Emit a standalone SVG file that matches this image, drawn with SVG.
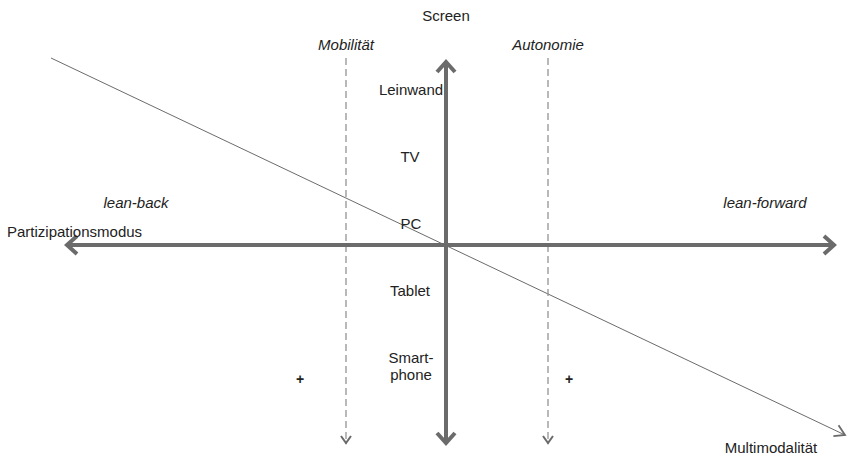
<svg xmlns="http://www.w3.org/2000/svg" width="849" height="457" viewBox="0 0 849 457">
<style>
text{font-family:"Liberation Sans",Arial,sans-serif;font-size:15px;fill:#222}
.it{font-style:italic}
.c{text-anchor:middle}
.axis{stroke:#6b6b6b;stroke-width:4;fill:none}
.dash{stroke:#8a8a8a;stroke-width:1.2;stroke-dasharray:7,4;fill:none}
.diag{stroke:#6b6b6b;stroke-width:1;fill:none}
.plus{font-weight:bold;font-size:14px}
</style>
<defs>
<marker id="big" markerUnits="userSpaceOnUse" viewBox="-14 -12 16 24" refX="0" refY="0" markerWidth="16" markerHeight="24" orient="auto" overflow="visible">
<polyline points="-11,-9 -1,0 -11,9" fill="none" stroke="#6b6b6b" stroke-width="4"/>
</marker>
<marker id="small" markerUnits="userSpaceOnUse" viewBox="-10 -8 12 16" refX="0" refY="0" markerWidth="12" markerHeight="16" orient="auto" overflow="visible">
<polyline points="-8,-5 -1,0 -8,5" fill="none" stroke="#6b6b6b" stroke-width="2"/>
</marker>
<marker id="thin" markerUnits="userSpaceOnUse" viewBox="-12 -8 14 16" refX="0" refY="0" markerWidth="14" markerHeight="16" orient="auto" overflow="visible">
<polyline points="-10,-6 0,0 -10,6" fill="none" stroke="#6b6b6b" stroke-width="1.8"/>
</marker>
</defs>
<g id="connectors">
<line class="diag" x1="51" y1="58" x2="845" y2="435" marker-end="url(#thin)"/>
<line class="dash" x1="346" y1="58" x2="346" y2="444" marker-end="url(#small)"/>
<line class="dash" x1="548" y1="58" x2="548" y2="444" marker-end="url(#small)"/>
<line class="axis" x1="446" y1="245" x2="446" y2="61" marker-end="url(#big)"/>
<line class="axis" x1="446" y1="245" x2="446" y2="444" marker-end="url(#big)"/>
<line class="axis" x1="446" y1="245" x2="66" y2="245" marker-end="url(#big)"/>
<line class="axis" x1="446" y1="245" x2="835" y2="245" marker-end="url(#big)"/>
</g>
<g id="screen"><text class="c" x="446" y="21">Screen</text></g>
<g id="mobilitaet"><text class="c it" x="346" y="50">Mobilität</text></g>
<g id="autonomie"><text class="c it" x="548" y="50">Autonomie</text></g>
<g id="leinwand"><text class="c" x="411" y="95">Leinwand</text></g>
<g id="tv"><text class="c" x="410" y="162">TV</text></g>
<g id="pc"><text class="c" x="411" y="229">PC</text></g>
<g id="tablet"><text class="c" x="410" y="296">Tablet</text></g>
<g id="smartphone"><text class="c" x="411" y="363">Smart-</text><text class="c" x="411" y="380">phone</text></g>
<g id="lean-back"><text class="c it" x="136" y="208">lean-back</text></g>
<g id="lean-forward"><text class="c it" x="765" y="208">lean-forward</text></g>
<g id="partizipationsmodus"><text x="7" y="237">Partizipationsmodus</text></g>
<g id="multimodalitaet"><text class="c" x="771" y="453">Multimodalität</text></g>
<g id="plus1"><text class="c plus" x="300" y="384">+</text></g>
<g id="plus2"><text class="c plus" x="569" y="384">+</text></g>
</svg>
